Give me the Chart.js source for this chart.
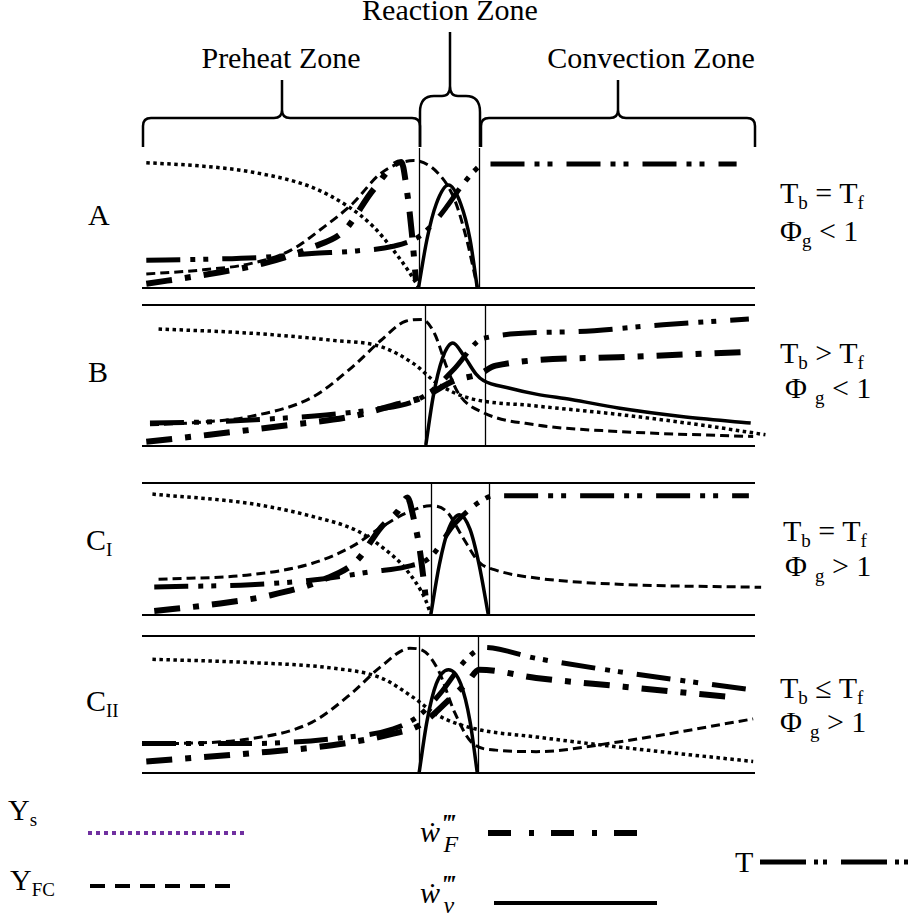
<!DOCTYPE html>
<html>
<head>
<meta charset="utf-8">
<script src="https://cdn.jsdelivr.net/npm/chart.js@4.4.1/dist/chart.umd.min.js"></script>
<style>
  body { margin: 0; background: #fff; }
  #fig { position: relative; width: 913px; height: 923px; overflow: hidden; font-family: 'Liberation Serif', 'Times New Roman', serif; color: #000; }
  .lbl { position: absolute; font-size: 30px; line-height: 1; white-space: nowrap; }
  .c { transform: translateX(-50%); }
  .lbl sub { font-size: 19px; position: relative; top: 6px; vertical-align: baseline; }
  .lbl .gap { margin-left: 8px; }
  .w sup { font-size: 26px; position: relative; top: -10px; vertical-align: baseline; font-style: italic; font-weight: bold; margin-left: 1px; }
  .w sub { font-size: 24px; top: 10px; margin-left: -12px; font-style: italic; }
  canvas { position: absolute; }
  svg { position: absolute; left: 0; top: 0; }
</style>
</head>
<body>
<div id="fig">
  <svg width="913" height="923">
    <g fill="none" stroke="#000" stroke-width="2.5">
      <path d="M143 147 L143 126 Q143 118 151 118 L274 118 Q282 118 282 110 L282 80 M282 110 Q282 118 290 118 L412 118 Q420 118 420 126 L420 147" />
      <path d="M420 147 L420 112 Q420 96 434 96 L442 96 Q450 96 450 86 L450 32 M450 86 Q450 96 458 96 L466 96 Q480 96 480 112 L480 147" />
      <path d="M481 147 L481 126 Q481 118 489 118 L610 118 Q618 118 618 110 L618 80 M618 110 Q618 118 626 118 L747 118 Q755 118 755 126 L755 147" />
    </g>
    <g fill="none">
      <line x1="88" y1="833" x2="248" y2="833" stroke="#7030A0" stroke-width="4" stroke-dasharray="4 4" />
      <line x1="90" y1="886" x2="240" y2="886" stroke="#000" stroke-width="4" stroke-dasharray="15 10" />
      <line x1="488" y1="833" x2="640" y2="833" stroke="#000" stroke-width="6" stroke-dasharray="23 18 5 17" />
      <line x1="494" y1="903" x2="657" y2="903" stroke="#000" stroke-width="4" />
      <line x1="760" y1="862" x2="910" y2="862" stroke="#000" stroke-width="5" stroke-dasharray="46 8 4 5 4 14" />
    </g>
  </svg>

  <div class="lbl c" style="left:450px; top:-5px;">Reaction Zone</div>
  <div class="lbl c" style="left:281px; top:43px;">Preheat Zone</div>
  <div class="lbl c" style="left:651px; top:43px;">Convection Zone</div>

  <div class="lbl" style="left:88px; top:200px;">A</div>
  <div class="lbl" style="left:88px; top:357px;">B</div>
  <div class="lbl" style="left:86px; top:525px;">C<sub>I</sub></div>
  <div class="lbl" style="left:86px; top:686px;">C<sub>II</sub></div>

  <div class="lbl" style="left:780px; top:178px;">T<sub>b</sub> = T<sub>f</sub></div>
  <div class="lbl" style="left:780px; top:216px;">Φ<sub>g</sub> &lt; 1</div>
  <div class="lbl" style="left:780px; top:338px;">T<sub>b</sub> &gt; T<sub>f</sub></div>
  <div class="lbl" style="left:785px; top:373px;">Φ<sub class="gap">g</sub> &lt; 1</div>
  <div class="lbl" style="left:783px; top:516px;">T<sub>b</sub> = T<sub>f</sub></div>
  <div class="lbl" style="left:785px; top:551px;">Φ<sub class="gap">g</sub> &gt; 1</div>
  <div class="lbl" style="left:780px; top:673px;">T<sub>b</sub> ≤ T<sub>f</sub></div>
  <div class="lbl" style="left:780px; top:707px;">Φ<sub class="gap">g</sub> &gt; 1</div>

  <div class="lbl" style="left:8px; top:795px;">Y<sub>s</sub></div>
  <div class="lbl" style="left:10px; top:865px;">Y<sub>FC</sub></div>
  <div class="lbl w" style="left:420px; top:817px;"><i>ẇ</i><sup>‴</sup><sub>F</sub></div>
  <div class="lbl w" style="left:420px; top:878px;"><i>ẇ</i><sup>‴</sup><sub>v</sub></div>
  <div class="lbl" style="left:735px; top:847px;">T</div>

  <canvas id="panelA" width="670" height="160" style="left:120px; top:138px;"></canvas>
  <canvas id="panelB" width="670" height="161" style="left:120px; top:295px;"></canvas>
  <canvas id="panelC1" width="670" height="152" style="left:120px; top:473px;"></canvas>
  <canvas id="panelC2" width="670" height="157" style="left:120px; top:626px;"></canvas>
</div>

<script>
// x: position across the flame (0 = left end, 100 = right end), y: relative magnitude (0..100)

// zone borders (preheat | reaction | convection)
const zonesA = [45.2, 55.0];
const zonesB = [46.1, 56.0];
const zonesC1 = [47.1, 56.6];
const zonesC2 = [45.2, 54.8];

// panel A: Tb = Tf, phi_g < 1
const aYs = [[0.7, 89.5], [10, 87], [17.7, 83], [27.7, 72], [33.7, 58], [37.7, 44], [41, 27], [43.5, 12], [45.1, 0.7]];
const aYfc = [[0.7, 10], [10, 13], [17.7, 17.4], [24.3, 27], [29.7, 43.7], [34.3, 60], [39, 82], [44.3, 91], [48.3, 82], [51, 63], [53, 34], [54.7, 0.7]];
const aWf = [[0.7, 3], [11, 10], [19.7, 17.4], [27.7, 29], [33, 41], [37.7, 70], [42.3, 90], [43.2, 70], [44, 40], [44.7, 5]];
const aT = [[0.7, 19.8], [10, 20.5], [20, 22], [27.7, 24.6], [35, 26.5], [41, 29.8], [45.1, 36.5], [47.5, 46], [49.7, 58], [52, 72], [54.3, 84], [55.7, 88.5], [97, 88.5]];
const aWv = [[45.1, 0], [46.5, 35], [48, 60], [50, 73.5], [52, 60], [53.5, 35], [54.7, 0]];

// panel B: Tb > Tf, phi_g < 1
const bYs = [[2.7, 83], [17.7, 80], [31, 75], [39, 70.4], [44.3, 58.4], [48.3, 44], [53, 34.4], [64.3, 28.4], [77.7, 22.4], [91, 15], [101.7, 8]];
const bYfc = [[1.3, 15], [10, 17], [17.7, 21], [27.7, 34.4], [34.3, 56], [39, 75], [43, 88.5], [45.7, 89.7], [47.7, 80], [49.7, 56], [51.7, 36.8], [55.7, 23.6], [64.3, 15], [77.7, 10.3], [99.7, 6.7]];
const bWf = [[0.7, 3], [11, 8], [24.3, 15], [34.3, 21], [41.7, 29.6], [45.7, 34.4], [51, 46.4], [55, 51], [57.7, 57], [77.7, 63], [99, 66.8]];
const bT = [[1.3, 16.3], [10, 17], [20, 19], [30, 22], [38, 26], [44, 31], [47.5, 40], [51, 55], [55.7, 76.4], [70, 81], [85, 86], [99, 90]];
const bWv = [[46.3, 0.7], [47.5, 35], [49, 62], [50.7, 73], [52.5, 64], [54.5, 51], [55.7, 46.4], [60, 41], [64.3, 36.8], [70, 33], [77.7, 27], [88, 21], [99.3, 16.3]];

// panel C_I: Tb = Tf, phi_g > 1
const c1Ys = [[1.7, 91.6], [17.7, 84.4], [27.7, 74.8], [35, 64], [39, 52], [43, 35], [46.3, 11], [47, 1.7]];
const c1Yfc = [[2.7, 27], [17.7, 30.5], [27.7, 39], [34.3, 52], [39, 66.4], [43, 77], [47, 82.7], [49.7, 78.4], [52.3, 59], [55, 40], [57.7, 34], [64.3, 28], [77.7, 23.3], [101, 21]];
const c1Wf = [[2, 3], [11, 7.7], [21, 15], [29.7, 27], [35, 41], [39, 66.4], [41.7, 78.4], [43.3, 89], [44.3, 73.6], [45.3, 49.6], [46.5, 5]];
const c1T = [[2, 21.3], [17.7, 23], [29, 27], [37.7, 33], [43, 36.5], [47, 43.6], [51, 69], [56.3, 89], [58, 90.4], [99, 90.4]];
const c1Wv = [[47.1, 0], [48.5, 38], [50, 65], [51.8, 76], [53.5, 65], [55, 38], [56.5, 0]];

// panel C_II: Tb <= Tf, phi_g > 1
const c2Ys = [[1.7, 83], [17.7, 80.6], [31, 76.6], [39, 69.4], [44.3, 55], [48.3, 42], [54.3, 32.3], [64.3, 26.3], [77.7, 19], [99.7, 8.4]];
const c2Yfc = [[0, 20.8], [17.7, 25], [27.7, 37], [34.3, 58.6], [39, 77.8], [43.7, 91], [45.7, 89.7], [48.3, 75.4], [51, 44.3], [53.7, 22.7], [57.7, 16.7], [64.3, 15.6], [77.7, 22.7], [99.7, 39.5]];
const c2Wf = [[0.7, 8.4], [17.7, 14.4], [31, 20.3], [41, 28.7], [45.2, 34.7], [51, 57.4], [53, 65.8], [55, 75.4], [64.3, 69.4], [77.7, 63.4], [97, 55]];
const c2T = [[0, 21.5], [17.7, 21.5], [31, 25], [41, 32.3], [45.2, 41.9], [49, 60], [52.3, 80], [54.3, 88.5], [55.7, 91.6], [64.3, 83.7], [77.7, 74], [99, 61]];
const c2Wv = [[45.2, 0], [46.5, 38], [48, 65], [50, 75.4], [52, 65], [53.5, 38], [54.7, 0]];

const lineStyles = {
  ys: { borderWidth: 3.5, borderDash: [3.5, 3.5] },
  yfc: { borderWidth: 3, borderDash: [9, 5] },
  wf: { borderWidth: 6, borderDash: [26, 13, 6, 13] },
  t: { borderWidth: 5, borderDash: [34, 10, 5, 8, 5, 14] },
  wv: { borderWidth: 3.5, borderDash: [] },
};

const framePlugin = {
  id: 'frame',
  beforeDatasetsDraw(chart, args, opts) {
    const { ctx, chartArea, scales } = chart;
    const { left, right, top, bottom } = chartArea;
    ctx.save();
    ctx.strokeStyle = '#000';
    ctx.lineWidth = 2;
    ctx.beginPath();
    ctx.moveTo(left, bottom);
    ctx.lineTo(right, bottom);
    if (opts.top) {
      ctx.moveTo(left, top);
      ctx.lineTo(right, top);
    }
    ctx.stroke();
    ctx.lineWidth = 1.3;
    ctx.beginPath();
    (opts.zones || []).forEach((v) => {
      const px = Math.round(scales.x.getPixelForValue(v)) + 0.5;
      ctx.moveTo(px, top);
      ctx.lineTo(px, bottom);
    });
    ctx.stroke();
    ctx.restore();
  },
};

function toPoints(pairs) {
  return pairs.map(([x, y]) => ({ x, y }));
}

function makePanel(id, zones, frameTop, series) {
  const datasets = ['ys', 'yfc', 't', 'wf', 'wv'].map((key) => ({
    label: key,
    data: toPoints(series[key]),
    borderColor: '#000',
    borderWidth: lineStyles[key].borderWidth,
    borderDash: lineStyles[key].borderDash,
    pointRadius: 0,
    fill: false,
    cubicInterpolationMode: 'monotone',
    clip: false,
  }));

  new Chart(document.getElementById(id), {
    type: 'line',
    data: { datasets },
    options: {
      responsive: false,
      animation: false,
      layout: { padding: { left: 22, right: 35, top: 10, bottom: 10 } },
      scales: {
        x: { type: 'linear', min: 0, max: 100, display: false },
        y: { type: 'linear', min: 0, max: 100, display: false },
      },
      plugins: {
        legend: { display: false },
        tooltip: { enabled: false },
        frame: { top: frameTop, zones },
      },
    },
    plugins: [framePlugin],
  });
}

makePanel('panelA', zonesA, false, { ys: aYs, yfc: aYfc, wf: aWf, t: aT, wv: aWv });
makePanel('panelB', zonesB, true, { ys: bYs, yfc: bYfc, wf: bWf, t: bT, wv: bWv });
makePanel('panelC1', zonesC1, true, { ys: c1Ys, yfc: c1Yfc, wf: c1Wf, t: c1T, wv: c1Wv });
makePanel('panelC2', zonesC2, true, { ys: c2Ys, yfc: c2Yfc, wf: c2Wf, t: c2T, wv: c2Wv });
</script>
</body>
</html>
